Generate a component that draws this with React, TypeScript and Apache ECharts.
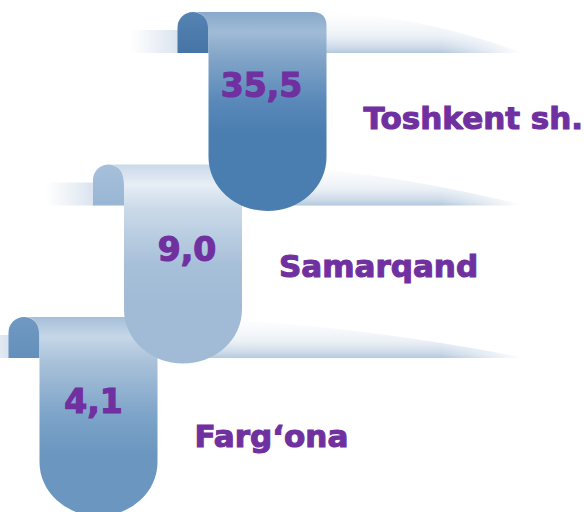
import { useEffect, useRef } from 'react';
import * as echarts from 'echarts';

// ---- data ----
const categories = ['Toshkent sh.', 'Samarqand', 'Farg‘ona'];
const values = [35.5, 9.0, 4.1];

// ---- styles / layout (not data) ----
const PURPLE = '#7030a0';
const FONT = '"DejaVu Sans", Verdana, sans-serif';
const palettes = [
  {
    tab: ['#5583b2', '#4574a6'],
    body: [[0, '#88a9cb'], [0.1, '#a0bbd6'], [0.22, '#84a6c9'], [0.45, '#5989b9'], [0.62, '#4a7db0'], [1, '#4a7db0']],
  },
  {
    tab: ['#a6c0da', '#98b6d3'],
    body: [[0, '#cad9e8'], [0.1, '#e7eef6'], [0.22, '#cbdae9'], [0.5, '#a7c0d9'], [0.7, '#a1bbd6'], [1, '#a1bbd6']],
  },
  {
    tab: ['#7099c2', '#6390bb'],
    body: [[0, '#a6bfd8'], [0.1, '#c6d7e8'], [0.22, '#aac2da'], [0.5, '#7ca3c8'], [0.7, '#6a96bf'], [1, '#6a96bf']],
  },
];
const valueDx = [-6, 4, -5];
const valueDy = [73, 85, 84];
const labelDy = [106, 101.5, 119];
const SHELF_END = 521;

const fmt = (v: number) => v.toFixed(1).replace('.', ',');

function grad(stops: any[]) {
  return new echarts.graphic.LinearGradient(
    0, 0, 0, 1,
    stops.map(([offset, color]: any) => ({ offset, color }))
  );
}

export default function App() {
  const ref = useRef<HTMLDivElement>(null);

  useEffect(() => {
    if (!ref.current) return;
    const chart = echarts.init(ref.current, undefined, { renderer: 'svg' });

    const order = [2, 1, 0]; // draw lower ribbons first so upper ones overlap them
    const seriesData = order.map((i) => ({ value: [i, i, values[i]], name: categories[i], idx: i }));

    const renderItem = (params: any, api: any) => {
      const item = seriesData[params.dataIndex];
      const i = item.idx;
      const [cx, cy] = api.coord([i, i]);
      const pal = palettes[i];
      const top = cy - 100;
      const bodyL = cx - 59;
      const bodyR = cx + 59;
      const tabL = bodyL - 31;
      const shelfB = top + 41;
      const bodyBottomStart = top + 145;

      const rightShelf =
        `M${bodyR},${top + 1} Q${bodyR + (SHELF_END - bodyR) * 0.45},${top + 2} ${SHELF_END},${shelfB - 1} ` +
        `L${SHELF_END},${shelfB} L${bodyR - 2},${shelfB} Z`;

      const tabPath =
        `M${tabL},${shelfB} L${tabL},${top + 15.5} A15.5 15.5 0 0 1 ${tabL + 31},${top + 15.5} ` +
        `L${tabL + 31},${shelfB} Z`;

      const bodyPath =
        `M${tabL + 16},${top} L${bodyR - 14},${top} Q${bodyR},${top} ${bodyR},${top + 14} ` +
        `L${bodyR},${bodyBottomStart} A59 54 0 0 1 ${bodyL},${bodyBottomStart} ` +
        `L${bodyL},${top + 22} Q${bodyL},${top} ${tabL + 16},${top} Z`;

      return {
        type: 'group',
        children: [
          {
            type: 'rect',
            shape: { x: tabL - 48, y: top + 18, width: 50, height: 23 },
            style: {
              fill: new echarts.graphic.LinearGradient(0, 0, 1, 0, [
                { offset: 0, color: 'rgba(200,214,230,0)' },
                { offset: 1, color: 'rgba(190,207,226,0.6)' },
              ]),
            },
          },
          {
            type: 'path',
            shape: { pathData: rightShelf },
            style: {
              fill: new echarts.graphic.LinearGradient(0, 0, 0, 1, [
                { offset: 0, color: 'rgba(210,222,235,0)' },
                { offset: 0.55, color: 'rgba(205,218,232,0.35)' },
                { offset: 0.9, color: 'rgba(180,200,222,0.75)' },
                { offset: 1, color: 'rgba(170,193,218,0.9)' },
              ]),
            },
          },
          {
            type: 'rect',
            shape: { x: SHELF_END - 80, y: top - 1, width: 84, height: 43 },
            style: {
              fill: new echarts.graphic.LinearGradient(0, 0, 1, 0, [
                { offset: 0, color: 'rgba(255,255,255,0)' },
                { offset: 0.95, color: 'rgba(255,255,255,1)' },
                { offset: 1, color: 'rgba(255,255,255,1)' },
              ]),
            },
          },
          {
            type: 'path',
            shape: { pathData: tabPath },
            style: {
              fill: new echarts.graphic.LinearGradient(0, 0, 0, 1, [
                { offset: 0, color: pal.tab[0] },
                { offset: 1, color: pal.tab[1] },
              ]),
            },
          },
          {
            type: 'path',
            shape: { pathData: bodyPath },
            style: { fill: grad(pal.body) },
          },
          {
            type: 'text',
            style: {
              text: fmt(api.value(2)),
              x: cx + valueDx[i],
              y: top + valueDy[i],
              align: 'center',
              verticalAlign: 'middle',
              fill: PURPLE,
              stroke: PURPLE,
              lineWidth: 1.2,
              fontSize: 33,
              fontWeight: 'bold',
              fontFamily: FONT,
            },
          },
          {
            type: 'text',
            style: {
              text: categories[i],
              x: bodyR + 37,
              y: top + labelDy[i],
              align: 'left',
              verticalAlign: 'middle',
              fill: PURPLE,
              stroke: PURPLE,
              lineWidth: 1.1,
              fontSize: 31,
              fontWeight: 'bold',
              fontFamily: FONT,
            },
          },
        ],
      };
    };

    chart.setOption({
      animation: false,
      backgroundColor: '#ffffff',
      grid: { left: 56.25, top: 35.75, width: 253.5, height: 457.5, containLabel: false },
      xAxis: { type: 'category', data: categories, inverse: true, show: false },
      yAxis: { type: 'category', data: categories, inverse: true, show: false },
      tooltip: { show: false },
      series: [
        {
          type: 'custom',
          coordinateSystem: 'cartesian2d',
          renderItem,
          encode: { x: 0, y: 1 },
          data: seriesData,
          clip: false,
        },
      ],
    });

    return () => chart.dispose();
  }, []);

  return (
    <div
      ref={ref}
      style={{ position: 'absolute', left: 0, top: 0, width: 584, height: 512, background: '#fff' }}
    />
  );
}
